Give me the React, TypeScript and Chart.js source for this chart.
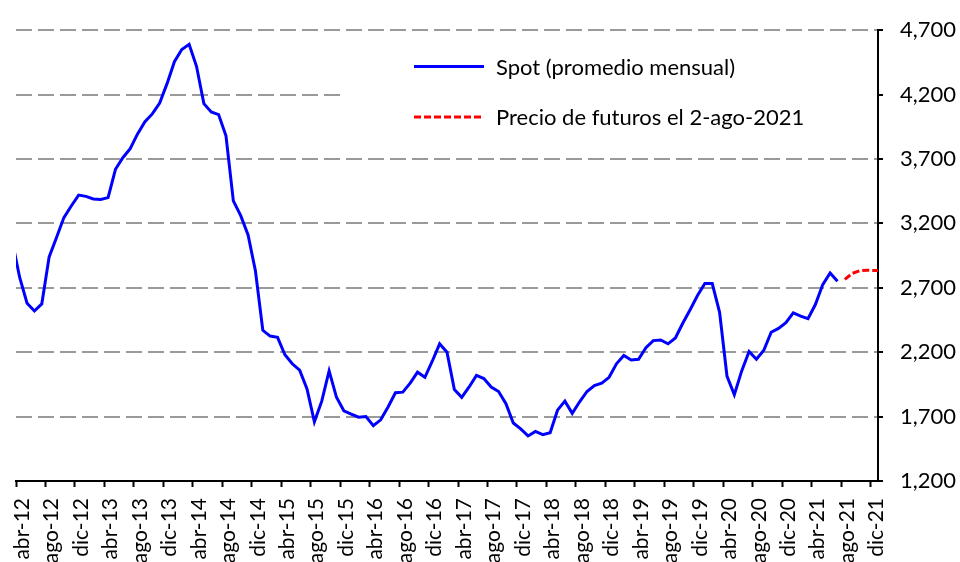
import React, { useEffect, useRef } from 'react';
import { Chart, registerables } from 'chart.js';

Chart.register(...registerables);

const FONT = 'Lato';

// x-axis tick labels (every 4 months, starting abr-12 = month 0)
const tickLabels = [
  'abr-12', 'ago-12', 'dic-12', 'abr-13', 'ago-13', 'dic-13', 'abr-14', 'ago-14', 'dic-14',
  'abr-15', 'ago-15', 'dic-15', 'abr-16', 'ago-16', 'dic-16', 'abr-17', 'ago-17', 'dic-17',
  'abr-18', 'ago-18', 'dic-18', 'abr-19', 'ago-19', 'dic-19', 'abr-20', 'ago-20', 'dic-20',
  'abr-21', 'ago-21', 'dic-21',
];

// y-axis ticks
const yTicks = [1200, 1700, 2200, 2700, 3200, 3700, 4200, 4700];

// Spot monthly average, mar-12 ... jul-21 (first month offset -1 from abr-12)
const spotStartMonth = -1;
const spotValues = [
  3060, 2780, 2580, 2520, 2575, 2940, 3090, 3245, 3335, 3420, // mar-12 .. dic-12
  3410, 3390, 3385, 3400, 3620, 3710, 3780, 3895, 3990, 4050, 4135, 4285, // 2013
  4455, 4550, 4590, 4420, 4130, 4065, 4045, 3880, 3375, 3260, 3110, 2830, // 2014
  2370, 2325, 2315, 2180, 2110, 2060, 1915, 1660, 1820, 2055, 1850, 1745, // 2015
  1720, 1695, 1700, 1630, 1675, 1775, 1885, 1890, 1960, 2045, 2005, 2130, // 2016
  2265, 2200, 1910, 1850, 1930, 2020, 1995, 1930, 1895, 1800, 1650, 1605, // 2017
  1550, 1585, 1560, 1575, 1750, 1820, 1725, 1815, 1895, 1940, 1960, 2005, // 2018
  2110, 2175, 2140, 2145, 2235, 2290, 2295, 2265, 2310, 2425, 2530, 2640, // 2019
  2733, 2733, 2510, 2015, 1870, 2055, 2205, 2145, 2215, 2355, 2385, 2430, // 2020
  2505, 2480, 2460, 2570, 2725, 2815, 2750, // ene-21 .. jul-21
];

// Futures prices on 2-ago-2021, ago-21 ... ene-22
const futuresStartMonth = 112;
const futuresValues = [2765, 2812, 2832, 2836, 2835, 2834];

const legendItems = [
  { label: 'Spot (promedio mensual)', color: '#0000FF', dash: [] as number[] },
  { label: 'Precio de futuros el 2-ago-2021', color: '#FF0000', dash: [7, 3] },
];

const toPoints = (start: number, values: number[]) =>
  values.map((v, i) => ({ x: start + i + 0.5, y: v }));

const legendPlugin = {
  id: 'customLegend',
  afterDraw(chart: any) {
    const { ctx, chartArea } = chart;
    ctx.save();
    ctx.fillStyle = '#FFFFFF';
    ctx.fillRect(340, 38, chartArea.right - 341, 102);
    legendItems.forEach((item, i) => {
      const y = 66.5 + i * 50.5;
      ctx.beginPath();
      ctx.setLineDash(item.dash);
      ctx.strokeStyle = item.color;
      ctx.lineWidth = 3;
      ctx.moveTo(414, y);
      ctx.lineTo(484, y);
      ctx.stroke();
      ctx.setLineDash([]);
      ctx.fillStyle = '#000000';
      ctx.font = `22px ${FONT}`;
      ctx.textBaseline = 'middle';
      ctx.textAlign = 'left';
      ctx.fillText(item.label, 496, y + 1);
    });
    ctx.restore();
  },
};

export default function App() {
  const canvasRef = useRef<HTMLCanvasElement>(null);

  useEffect(() => {
    const canvas = canvasRef.current;
    if (!canvas) return;
    const chart = new Chart(canvas, {
      type: 'line',
      data: {
        datasets: [
          {
            label: legendItems[0].label,
            data: toPoints(spotStartMonth, spotValues),
            borderColor: '#0000FF',
            borderWidth: 3,
            pointRadius: 0,
            tension: 0,
            clip: 0,
          },
          {
            label: legendItems[1].label,
            data: toPoints(futuresStartMonth, futuresValues),
            borderColor: '#FF0000',
            borderWidth: 3,
            borderDash: [7, 3],
            pointRadius: 0,
            tension: 0,
            clip: 0,
          },
        ],
      },
      options: {
        animation: false,
        responsive: false,
        maintainAspectRatio: false,
        layout: { padding: { left: 16, top: 21, right: 0, bottom: 0 } },
        plugins: {
          legend: { display: false },
          tooltip: { enabled: false },
          title: { display: false },
        },
        scales: {
          x: {
            type: 'linear',
            min: 0,
            max: 117,
            afterFit: (scale: any) => {
              scale.height = 81;
            },
            ticks: {
              stepSize: 4,
              autoSkip: false,
              includeBounds: false,
              maxRotation: 90,
              minRotation: 90,
              padding: 11,
              labelOffset: 6,
              color: '#000',
              font: { family: FONT, size: 21 },
              callback: (v: any) => {
                const idx = Math.round(Number(v) / 4);
                return Number(v) % 4 === 0 && tickLabels[idx] ? tickLabels[idx] : null;
              },
            },
            grid: {
              drawOnChartArea: false,
              drawTicks: true,
              tickLength: 6,
              tickColor: '#000',
              tickWidth: 2,
              color: '#000',
            },
            border: { display: true, color: '#000', width: 2 },
          },
          y: {
            type: 'linear',
            position: 'right',
            min: yTicks[0],
            max: yTicks[yTicks.length - 1],
            afterFit: (scale: any) => {
              scale.width = 82;
            },
            afterBuildTicks: (scale: any) => {
              scale.ticks = yTicks.map((v) => ({ value: v }));
            },
            ticks: {
              padding: 17,
              color: '#000',
              font: { family: FONT, size: 22 },
              callback: (v: any) => Number(v).toLocaleString('en-US'),
            },
            grid: {
              color: (c: any) => (c.tick && c.tick.value === 1200 ? 'rgba(0,0,0,0)' : '#9A9A9A'),
              lineWidth: 2,
              drawTicks: true,
              tickLength: 5,
              tickColor: '#000',
              tickWidth: 2,
              tickBorderDash: [],
            },
            border: { display: true, color: '#000', width: 2, dash: [16, 6] },
          },
        },
      },
      plugins: [legendPlugin],
    });
    return () => chart.destroy();
  }, []);

  return (
    <div style={{ position: 'fixed', left: 0, top: 0, width: 960, height: 562, background: '#fff' }}>
      <canvas ref={canvasRef} width={960} height={562} />
    </div>
  );
}
